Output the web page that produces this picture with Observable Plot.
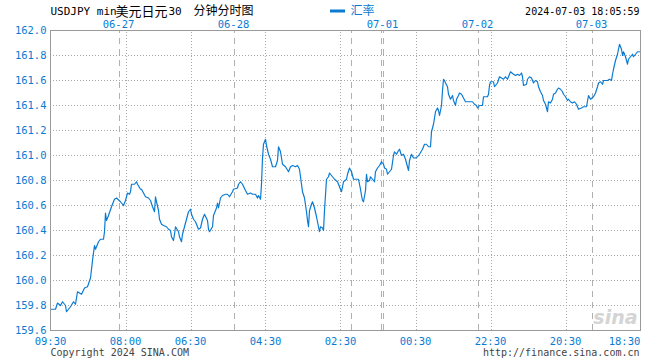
<!DOCTYPE html>
<html>
<head>
<meta charset="utf-8">
<script src="https://cdn.jsdelivr.net/npm/d3@7"></script>
<script src="https://cdn.jsdelivr.net/npm/@observablehq/plot@0.6"></script>
<style>
  html, body { margin: 0; padding: 0; background: #fff; }
  #chart svg { display: block; }
</style>
</head>
<body>
<div id="chart"></div>
<script>
// sample index along the time axis (one slot per sample, 0..590)
const tIdx = [1,5,7,10,12,15,16,20,23,25,27,31,34,37,40,42,44,45,48,50,53,54,55,56,58,61,64,66,70,73,75,77,79,80,81,84,86,87,90,91,95,98,100,102,104,105,106,108,109,111,113,116,118,120,121,123,124,125,128,129,131,132,134,136,138,140,141,143,145,148,
150,152,154,157,158,159,162,163,166,167,168,170,172,175,177,179,182,183,187,188,190,192,195,197,200,202,205,207,208,210,211,212,213,215,216,218,220,222,225,227,228,230,232,235,238,240,242,245,247,249,251,252,254,256,257,258,259,261,262,264,266,268,269,270,272,273,274,276,278,279,282,284,287,289,291,293,
296,297,299,301,303,306,308,310,311,312,313,315,316,317,319,320,322,324,325,327,329,331,333,334,336,337,339,341,343,344,346,348,349,351,353,354,355,357,358,359,361,363,365,367,369,372,374,376,378,380,381,383,384,385,387,388,389,391,392,393,394,395,397,398,400,402,403,405,406,408,409,411,413,415,418,422,424,426,427,429,432,433,437,438,439,
440,443,444,447,449,453,455,457,460,463,465,467,469,471,472,473,476,477,479,481,483,485,487,488,490,492,493,495,497,498,500,502,503,505,507,508,510,512,513,515,517,518,520,522,524,526,528,531,533,536,538,540,543,545,547,548,550,552,553,557,559,561,562,563,565,567,568,569,571,572,573,575,577,578,580,582,583,585,587,589];

// USD/JPY rate
const rate = [159.77,159.77,159.82,159.80,159.83,159.80,159.75,159.79,159.83,159.81,159.91,159.89,159.94,159.95,160.02,160.16,160.28,160.25,160.31,160.33,160.33,160.39,160.54,160.48,160.52,160.59,160.65,160.66,160.63,160.60,160.64,160.70,160.69,160.71,160.77,160.77,160.79,160.77,160.73,160.73,160.67,160.66,160.64,160.59,160.55,160.67,160.63,160.56,160.49,160.45,160.44,160.43,160.41,160.40,160.35,160.32,160.37,160.43,160.39,160.35,160.31,160.37,160.43,160.49,160.55,160.57,160.53,160.49,160.47,160.41,
160.42,160.49,160.53,160.48,160.41,160.39,160.43,160.52,160.58,160.62,160.58,160.66,160.68,160.69,160.69,160.67,160.71,160.73,160.74,160.77,160.79,160.77,160.72,160.69,160.70,160.69,160.69,160.66,160.68,160.65,160.77,160.98,161.09,161.13,161.08,161.01,160.97,160.91,160.91,160.96,161.07,161.03,160.93,160.91,160.87,160.91,160.92,160.91,160.92,160.89,160.77,160.71,160.66,160.55,160.48,160.43,160.56,160.61,160.63,160.58,160.51,160.43,160.39,160.43,160.42,160.40,160.56,160.81,160.83,160.86,160.83,160.81,160.79,160.75,160.71,160.79,
160.81,160.85,160.90,160.87,160.81,160.81,160.81,160.73,160.68,160.64,160.63,160.72,160.85,160.79,160.80,160.83,160.81,160.79,160.87,160.90,160.92,160.95,160.93,160.90,160.89,160.85,160.87,160.89,161.00,161.03,161.01,161.04,161.05,161.00,161.01,160.99,160.97,160.91,160.88,160.96,161.01,160.98,160.98,160.99,161.01,161.05,161.09,161.09,161.07,161.07,161.19,161.25,161.30,161.35,161.38,161.36,161.32,161.40,161.52,161.61,161.60,161.58,161.55,161.49,161.45,161.48,161.44,161.40,161.45,161.48,161.50,161.49,161.46,161.43,161.43,161.43,161.41,161.40,161.38,161.40,161.40,161.47,161.47,161.49,161.56,
161.59,161.59,161.55,161.58,161.63,161.61,161.63,161.61,161.67,161.65,161.64,161.65,161.64,161.66,161.63,161.56,161.57,161.61,161.63,161.62,161.58,161.60,161.59,161.55,161.51,161.48,161.44,161.41,161.35,161.43,161.42,161.45,161.49,161.50,161.53,161.54,161.53,161.51,161.49,161.47,161.44,161.45,161.43,161.42,161.43,161.41,161.37,161.38,161.39,161.39,161.48,161.45,161.47,161.50,161.55,161.58,161.59,161.57,161.60,161.60,161.61,161.60,161.65,161.69,161.76,161.81,161.85,161.89,161.85,161.80,161.83,161.79,161.73,161.77,161.79,161.81,161.79,161.81,161.83,161.83];

const yTicks = [159.6,159.8,160.0,160.2,160.4,160.6,160.8,161.0,161.2,161.4,161.6,161.8,162.0];
const timeGridT = [76,141,215,290,366,441,516];
const timeLabels = ["09:30","08:00","06:30","04:30","02:30","00:30","22:30","20:30","18:30"];
const timeLabelT = [0,75,140,215,290,365,440,515,574];
const dayLineT = [69,184,301,331,333,428,542];
const dayLabels = ["06-27","06-28","07-01","07-02","07-03"];
const dayLabelT = [68,183,332,427,541];

const title1 = "USDJPY min";
const title2 = "美元日元";
const title3 = "30";
const title4 = "分钟分时图";
const legendLabel = "汇率";
const stamp = "2024-07-03 18:05:59";
const copyright = "Copyright 2024 SINA.COM";
const url = "http://finance.sina.com.cn";

const data = tIdx.map((t, i) => ({t, v: rate[i]}));
const blue = "#0a7bd3";
const mono = "'DejaVu Sans Mono', 'Liberation Mono', monospace";
const cjk = "'Noto Sans CJK SC', 'DejaVu Sans Mono', sans-serif";

// header / footer text helper (frame is at left 50, top 30)
function note(str, x, y, opts = {}) {
  return Plot.text([str], {
    frameAnchor: "top-left", dx: x - 50, dy: y - 30, text: d => d,
    textAnchor: opts.anchor || "start", lineAnchor: "middle",
    fontFamily: opts.font || mono, fontSize: opts.size || 10,
    fill: opts.fill || "#000", fontWeight: opts.weight || "normal",
    fontStyle: opts.style || "normal"
  });
}

const chart = Plot.plot({
  width: 660, height: 360,
  marginLeft: 50, marginRight: 20, marginTop: 30, marginBottom: 30,
  x: {domain: [0, 590], axis: null},
  y: {domain: [159.6, 162.0], axis: null},
  style: {background: "#fff"},
  marks: [
    Plot.ruleY(yTicks.slice(1, -1), {stroke: "#a8a8a8", strokeDasharray: "1,2", strokeWidth: 1}),
    Plot.ruleX(timeGridT, {y1: 159.6, y2: 162.0, stroke: "#a8a8a8", strokeDasharray: "1,2"}),
    Plot.ruleX(dayLineT, {y1: 159.6, y2: 162.0, stroke: "#b0b0b0", strokeDasharray: "6,5"}),
    note("sina", 637, 317, {anchor: "end", size: 19, fill: "#d4d4d4", weight: "bold", style: "italic", font: "'DejaVu Sans', sans-serif"}),
    Plot.frame({stroke: "#9a9a9a"}),
    Plot.line(data, {x: "t", y: "v", stroke: blue, strokeWidth: 1.2}),
    Plot.text(yTicks, {x: 0, y: d => d, text: d => d.toFixed(1), textAnchor: "end", dx: -4,
      fill: blue, fontFamily: mono, fontSize: 10.5}),
    Plot.text(timeLabels, {x: (d, i) => timeLabelT[i], y: 159.6, dy: 11, text: d => d,
      fill: blue, fontFamily: mono, fontSize: 10.5}),
    Plot.text(dayLabels, {x: (d, i) => dayLabelT[i], y: 162.0, dy: -6, text: d => d,
      fill: blue, fontFamily: mono, fontSize: 10.5}),
    note(title1, 50, 11, {size: 11}),
    note(title2, 115, 11, {size: 13, font: cjk}),
    note(title3, 168, 11, {size: 11}),
    note(title4, 193, 11, {size: 12, font: cjk}),
    note(legendLabel, 350, 11, {size: 12, font: cjk, fill: blue}),
    note(stamp, 639, 11, {anchor: "end", size: 10}),
    note(copyright, 50, 352, {size: 10, fill: "#444"}),
    note(url, 639, 352, {anchor: "end", size: 10, fill: "#444"})
  ]
});

// legend swatch
d3.select(chart).append("line")
  .attr("x1", 330).attr("x2", 345).attr("y1", 11).attr("y2", 11)
  .attr("stroke", blue).attr("stroke-width", 3);

document.getElementById("chart").appendChild(chart);
</script>
</body>
</html>
